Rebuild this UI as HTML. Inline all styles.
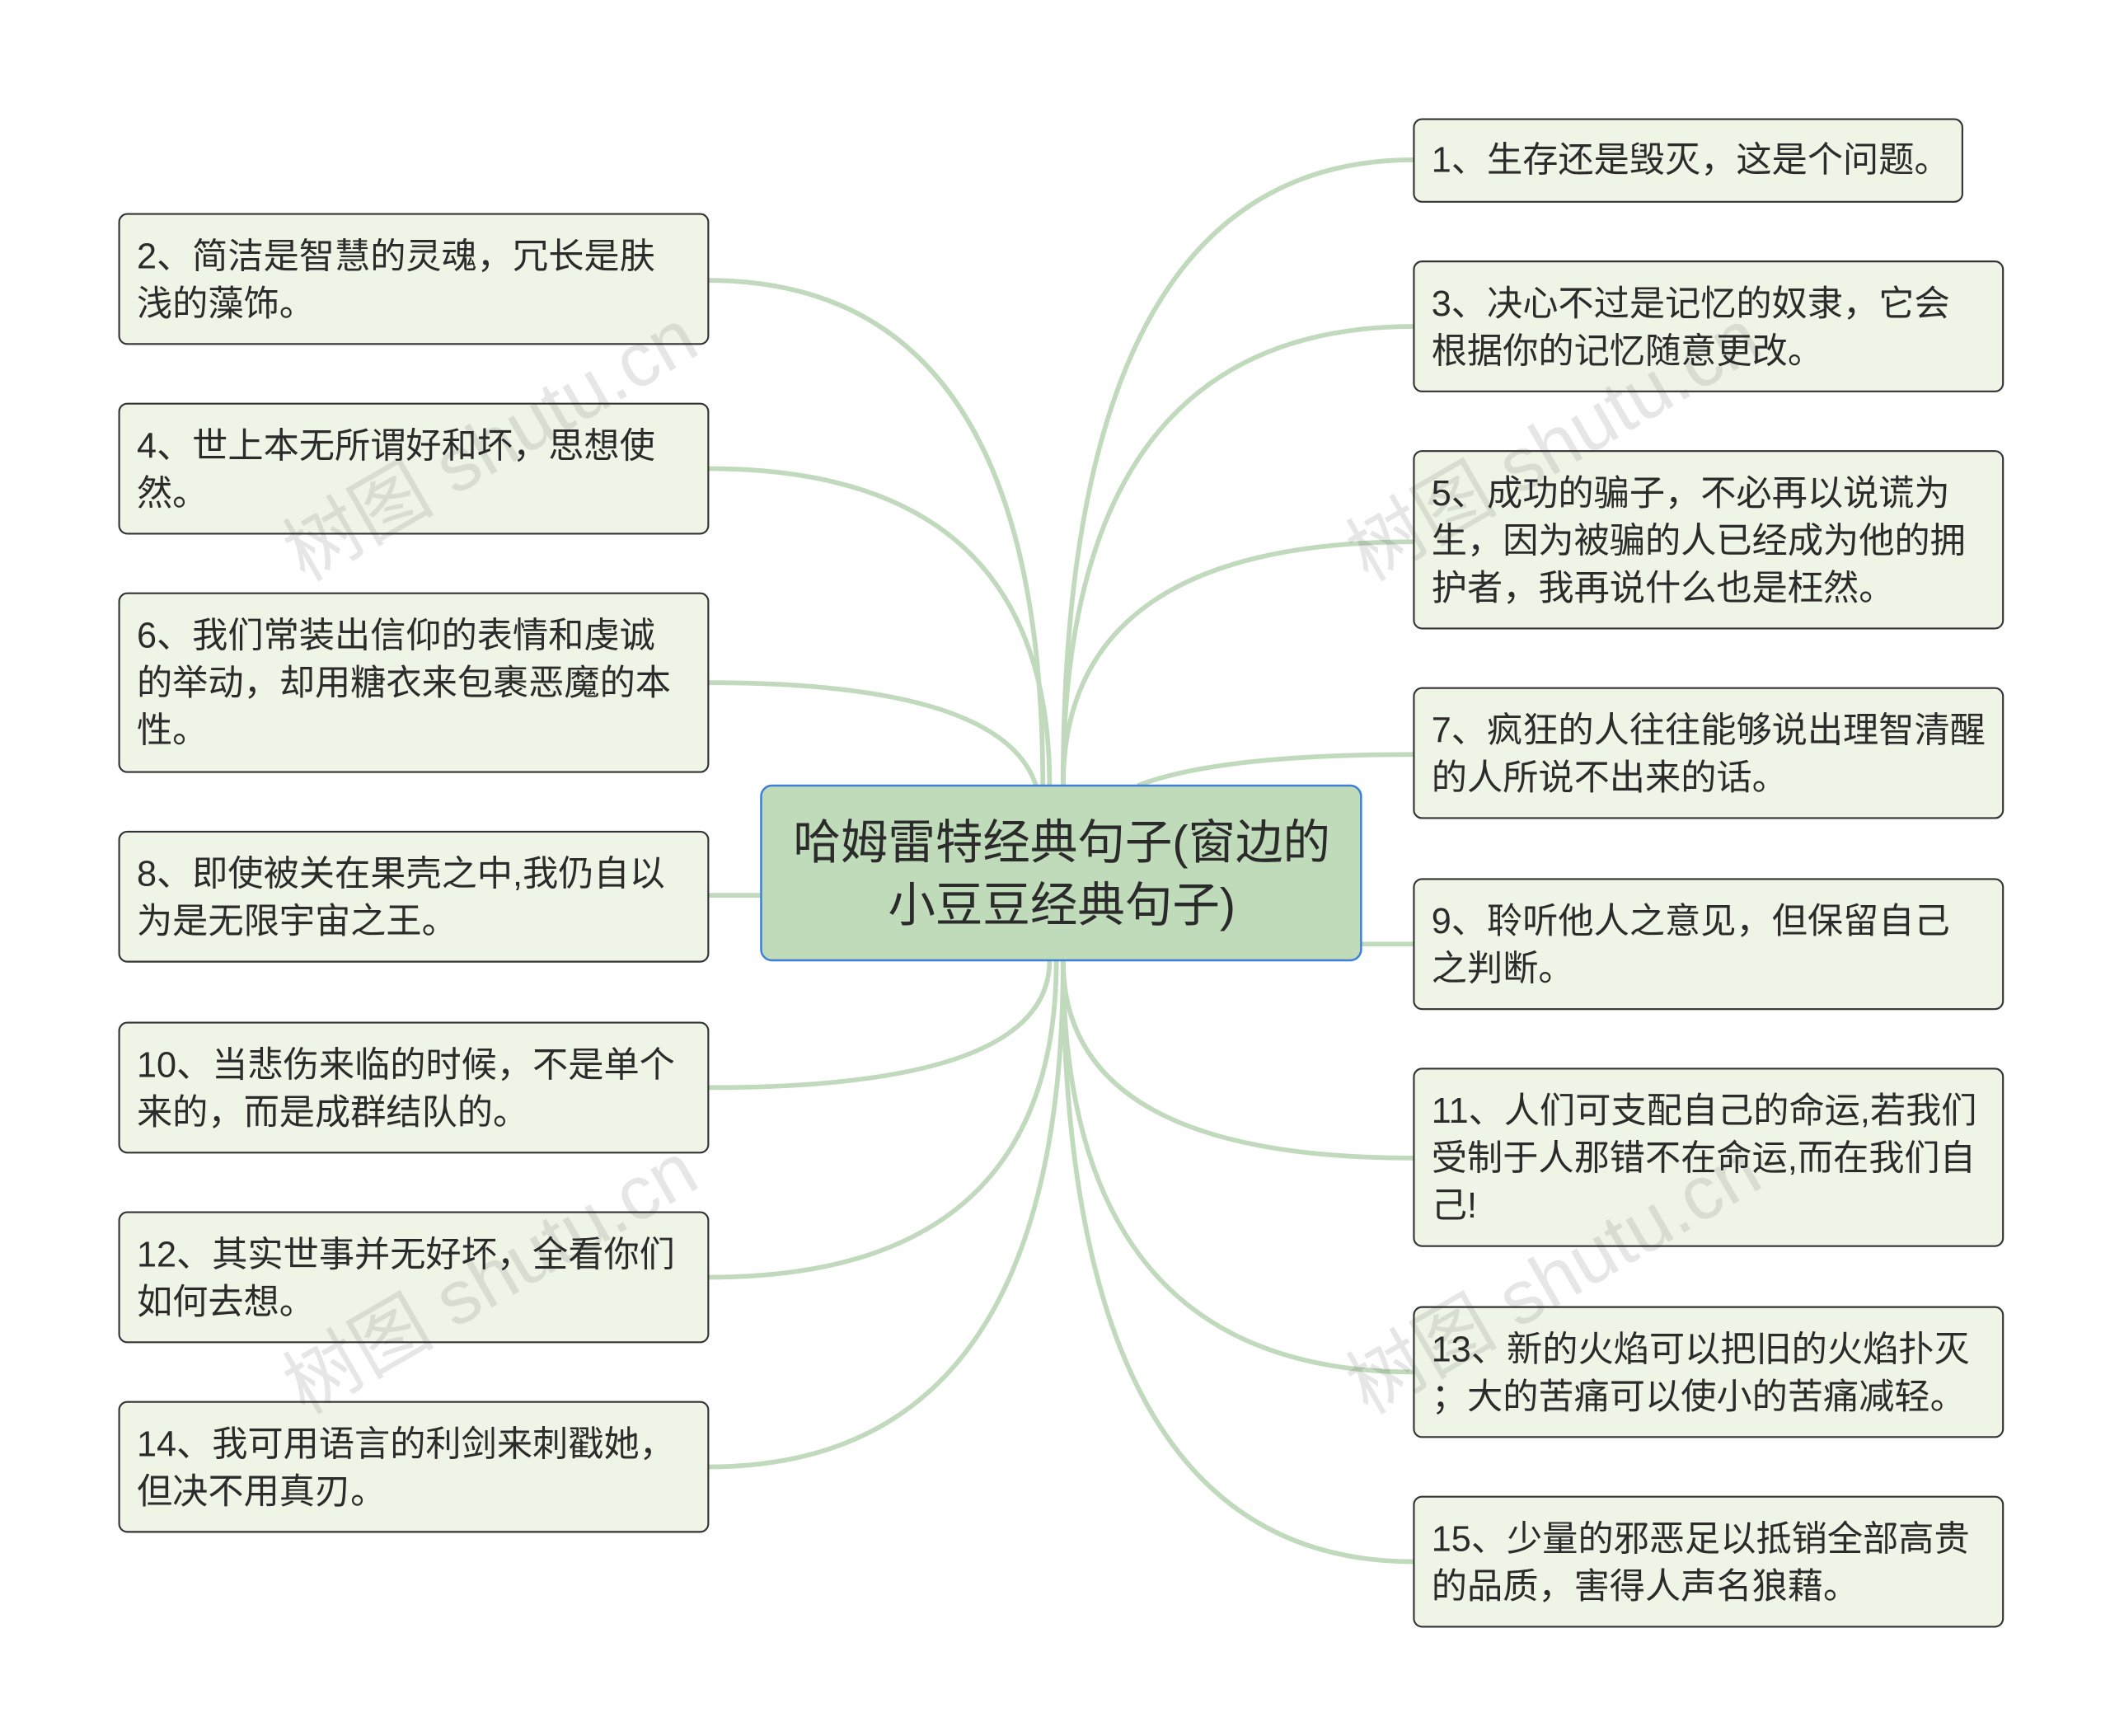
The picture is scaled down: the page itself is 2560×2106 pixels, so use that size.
<!DOCTYPE html>
<html><head><meta charset="utf-8"><style>
html,body{margin:0;padding:0;background:#fff;}
svg{display:block;}
text{font-family:"Liberation Sans","Noto Sans CJK SC",sans-serif;fill:#2b2b2b;}
</style></head><body>
<svg width="2560" height="2106" viewBox="0 0 1558 1281.7" xmlns="http://www.w3.org/2000/svg">
<g fill="none" stroke="#c1dabd" stroke-width="3.5">
<path d="M785 580 Q785 118 1044 118"/>
<path d="M785 580 Q785 241 1044 241"/>
<path d="M785 580 Q785 400 1044 400"/>
<path d="M840 580 Q900 557 1044 557"/>
<path d="M1005 697 L1044 697"/>
<path d="M785 709 Q785 855 1044 855"/>
<path d="M785 709 Q785 1013 1044 1013"/>
<path d="M785 709 Q785 1153 1044 1153"/>
<path d="M770 580 Q770 207 523 207"/>
<path d="M775 580 Q775 346 523 346"/>
<path d="M765 580 Q740 504 523 504"/>
<path d="M562 661 L523 661"/>
<path d="M775 709 Q775 803 523 803"/>
<path d="M780 709 Q780 943 523 943"/>
<path d="M785 709 Q785 1083 523 1083"/>
</g>
<g fill="#eff5e6" stroke="#333" stroke-width="1.3">
<rect x="88" y="158" width="435" height="96" rx="6"/>
<rect x="88" y="298" width="435" height="96" rx="6"/>
<rect x="88" y="438" width="435" height="132" rx="6"/>
<rect x="88" y="614" width="435" height="96" rx="6"/>
<rect x="88" y="755" width="435" height="96" rx="6"/>
<rect x="88" y="895" width="435" height="96" rx="6"/>
<rect x="88" y="1035" width="435" height="96" rx="6"/>
<rect x="1044" y="88" width="405" height="61" rx="6"/>
<rect x="1044" y="193" width="435" height="96" rx="6"/>
<rect x="1044" y="333" width="435" height="131" rx="6"/>
<rect x="1044" y="508" width="435" height="96" rx="6"/>
<rect x="1044" y="649" width="435" height="96" rx="6"/>
<rect x="1044" y="789" width="435" height="131" rx="6"/>
<rect x="1044" y="965" width="435" height="96" rx="6"/>
<rect x="1044" y="1105" width="435" height="96" rx="6"/>
</g>
<rect x="562" y="580" width="443" height="129" rx="8" fill="#c0dbb9" stroke="#3b7fd8" stroke-width="1.5"/>
<g font-size="35" text-anchor="middle">
<text x="784" y="634">哈姆雷特经典句子(窗边的</text>
<text x="784" y="680">小豆豆经典句子)</text>
</g>
<g font-size="26.3">
<text x="101" y="198">2、简洁是智慧的灵魂，冗长是肤</text>
<text x="101" y="233">浅的藻饰。</text>
<text x="101" y="338">4、世上本无所谓好和坏，思想使</text>
<text x="101" y="373">然。</text>
<text x="101" y="478">6、我们常装出信仰的表情和虔诚</text>
<text x="101" y="513">的举动，却用糖衣来包裹恶魔的本</text>
<text x="101" y="548">性。</text>
<text x="101" y="654">8、即使被关在果壳之中,我仍自以</text>
<text x="101" y="689">为是无限宇宙之王。</text>
<text x="101" y="795">10、当悲伤来临的时候，不是单个</text>
<text x="101" y="830">来的，而是成群结队的。</text>
<text x="101" y="935">12、其实世事并无好坏，全看你们</text>
<text x="101" y="970">如何去想。</text>
<text x="101" y="1075">14、我可用语言的利剑来刺戳她，</text>
<text x="101" y="1110">但决不用真刃。</text>
<text x="1057" y="127">1、生存还是毁灭，这是个问题。</text>
<text x="1057" y="233">3、决心不过是记忆的奴隶，它会</text>
<text x="1057" y="268">根据你的记忆随意更改。</text>
<text x="1057" y="373">5、成功的骗子，不必再以说谎为</text>
<text x="1057" y="408">生，因为被骗的人已经成为他的拥</text>
<text x="1057" y="443">护者，我再说什么也是枉然。</text>
<text x="1057" y="548">7、疯狂的人往往能够说出理智清醒</text>
<text x="1057" y="583">的人所说不出来的话。</text>
<text x="1057" y="689">9、聆听他人之意见，但保留自己</text>
<text x="1057" y="724">之判断。</text>
<text x="1057" y="829">11、人们可支配自己的命运,若我们</text>
<text x="1057" y="864">受制于人那错不在命运,而在我们自</text>
<text x="1057" y="899">己!</text>
<text x="1057" y="1005">13、新的火焰可以把旧的火焰扑灭</text>
<text x="1057" y="1040">；大的苦痛可以使小的苦痛减轻。</text>
<text x="1057" y="1145">15、少量的邪恶足以抵销全部高贵</text>
<text x="1057" y="1180">的品质，害得人声名狼藉。</text>
</g>
<g font-size="56" font-family="Liberation Serif,Noto Serif CJK SC,serif" style="fill:#000;opacity:0.12">
<text transform="translate(225,430) rotate(-30)" x="0" y="0">树图 shutu.cn</text>
<text transform="translate(225,1045) rotate(-30)" x="0" y="0">树图 shutu.cn</text>
<text transform="translate(1010,430) rotate(-30)" x="0" y="0">树图 shutu.cn</text>
<text transform="translate(1010,1045) rotate(-30)" x="0" y="0">树图 shutu.cn</text>
</g>
</svg>
</body></html>
